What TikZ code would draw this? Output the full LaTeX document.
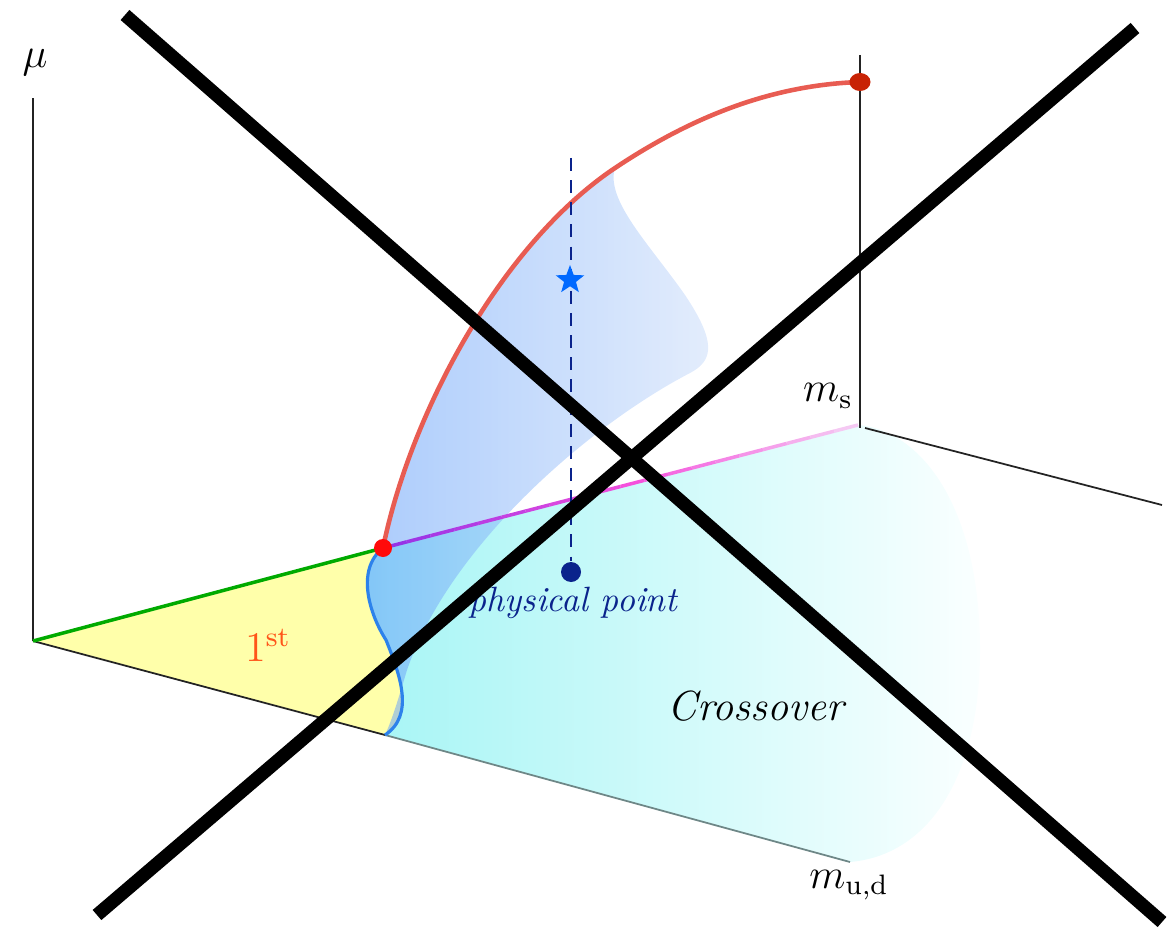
\documentclass[tikz,border=0pt]{standalone}
\usepackage{amsmath, amssymb}
\usepackage{tikz}
\usetikzlibrary{calc, shapes.geometric}
\definecolor{axisgray}{RGB}{35,35,35}
\definecolor{axisteal}{RGB}{110,135,135}
\definecolor{surfblue}{RGB}{100,160,250}
\definecolor{surfpale}{RGB}{205,222,250}
\definecolor{crosscyan}{RGB}{165,245,245}
\definecolor{crosswhite}{RGB}{250,255,255}
\definecolor{firstyellow}{RGB}{255,255,170}
\definecolor{wavyblue}{RGB}{45,130,235}
\definecolor{lineviolet}{RGB}{150,50,230}
\definecolor{linepink}{RGB}{245,80,220}
\definecolor{linepale}{RGB}{245,215,245}
\definecolor{curvered}{RGB}{232,92,82}
\definecolor{dotred}{RGB}{255,10,10}
\definecolor{topred}{RGB}{200,35,5}
\definecolor{physblue}{RGB}{10,35,140}
\definecolor{starblue}{RGB}{0,105,255}
\definecolor{firstorange}{RGB}{255,85,25}
\definecolor{greenline}{RGB}{0,170,0}
\tikzset{
  axisline/.style={draw=axisgray, line width=0.5pt},
  firstfill/.style={fill=firstyellow},
  crossfill/.style={left color=crosscyan, right color=crosswhite, shading angle=90},
  surffill/.style={left color=surfblue, right color=surfpale, fill opacity=0.55},
  wavyline/.style={draw=wavyblue, line width=0.9pt},
  critline/.style={draw=curvered, line width=1.3pt},
  physline/.style={draw=physblue, line width=0.6pt, dash pattern=on 3.7pt off 2.6pt},
  reddot/.style={circle, fill=dotred, inner sep=0pt, minimum size=0.18cm},
  topdot/.style={ellipse, fill=topred, inner sep=0pt, minimum width=0.21cm, minimum height=0.18cm},
  axislabel/.style={font=\large, text=black},
  crossbar/.style={draw=black, line width=3.8pt}
}
\begin{document}
\begin{tikzpicture}
  \useasboundingbox (0,0) rectangle (11.76,9.35);
  % corners of the diagram
  \coordinate (O) at (0.33,2.94);
  \coordinate (mutop) at (0.33,8.37);
  \coordinate (A) at (3.83,3.87);
  \coordinate (C) at (3.86,2.95);
  \coordinate (B) at (3.85,2.00);
  \coordinate (E) at (8.50,0.73);
  \coordinate (S) at (8.58,5.10);
  \coordinate (P) at (6.15,7.67);
  \coordinate (T) at (8.60,8.53);
  \coordinate (mstop) at (8.60,8.80);
  \coordinate (msbot) at (8.60,5.07);
  \coordinate (msa) at (8.65,5.07);
  \coordinate (msb) at (11.62,4.30);

  % first order region
  \fill[firstfill] (O) -- (A) .. controls (3.55,3.65) and (3.7,3.2) .. (C)
    .. controls (4.0,2.6) and (4.15,2.2) .. (B) -- cycle;
  \draw[axisline] (O) -- (mutop);
  \draw[axisline] (O) -- (B);

  % crossover region
  \shade[crossfill] (A) .. controls (3.55,3.65) and (3.7,3.2) .. (C)
    .. controls (4.0,2.6) and (4.15,2.2) .. (B) -- (E)
    .. controls (9.3,0.8) and (9.8,1.6) .. (9.8,2.85)
    .. controls (9.8,4.3) and (9.2,5.05) .. (S) -- cycle;
  \draw[draw=axisteal, line width=0.5pt] (B) -- (E);

  % critical surface
  \shade[surffill] (A) .. controls (4.1,5.2) and (5.0,6.9) .. (P)
    .. controls (6.05,7.35) and (6.5,6.9) .. (6.85,6.4)
    .. controls (7.15,5.95) and (7.15,5.75) .. (6.9,5.62)
    .. controls (5.9,5.1) and (4.5,3.9) .. (4.07,2.65)
    .. controls (3.98,2.35) and (3.92,2.15) .. (B)
    .. controls (4.15,2.2) and (4.0,2.6) .. (C)
    .. controls (3.7,3.2) and (3.55,3.65) .. (A) -- cycle;

  \draw[wavyline] (A) .. controls (3.55,3.65) and (3.7,3.2) .. (C)
    .. controls (4.0,2.6) and (4.15,2.2) .. (B);
  \draw[draw=greenline, line width=1pt] (O) -- (A);
  \foreach \i in {0,...,19}{
    \pgfmathtruncatemacro{\mix}{100-10*mod(\i,10)}
    \ifnum\i<10 \colorlet{segcol}{lineviolet!\mix!linepink}\else\colorlet{segcol}{linepink!\mix!linepale}\fi
    \draw[draw=segcol, line width=1pt] ($(A)!\i/20!(S)$) -- ($(A)!\i/20+0.05!(S)$);
  }

  % strange quark axis
  \draw[axisline] (mstop) -- (msbot);
  \draw[axisline] (msa) -- (msb);

  \draw[critline] (A) .. controls (4.1,5.2) and (5.0,6.9) .. (P)
    .. controls (6.9,8.17) and (7.7,8.5) .. (T);

  % physical point
  \coordinate (phtop) at (5.71,7.77);
  \node[circle, fill=physblue, inner sep=0pt, minimum size=0.2cm] (phys) at (5.71,3.63) {};
  \draw[physline] (phtop) -- (phys.north);
  \node[star, star points=5, star point ratio=2.4, fill=starblue, inner sep=0pt,
        minimum size=0.3cm] (phstar) at (5.70,6.55) {};
  \node[font=\itshape, text=physblue] (physlbl) at (5.73,3.32) {physical point};

  \node[reddot] (Adot) at (A) {};
  \node[topdot] (Tdot) at (T) {};

  \node[axislabel] (mulbl) at (0.35,8.72) {$\mu$};
  \node[axislabel] (mslbl) at (8.28,5.39) {$m_{\mathrm{s}}$};
  \node[axislabel] (mudlbl) at (8.49,0.50) {$m_{\mathrm{u,d}}$};
  \node[font=\large, text=firstorange] (firstlbl) at (2.68,2.90) {$1^{\mathrm{st}}$};
  \node[font=\large] (crosslbl) at (7.57,2.29) {\textit{Crossover}};

  % crossed out
  \coordinate (xa) at (1.25,9.20);
  \coordinate (xb) at (11.62,0.13);
  \coordinate (xc) at (0.97,0.20);
  \coordinate (xd) at (11.35,9.07);
  \draw[crossbar] (xa) -- (xb);
  \draw[crossbar] (xc) -- (xd);
\end{tikzpicture}
\end{document}
